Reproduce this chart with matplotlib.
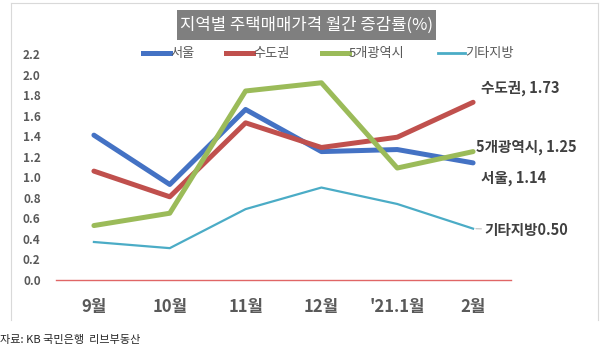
import matplotlib
matplotlib.use("Agg")
import matplotlib.pyplot as plt
from matplotlib.lines import Line2D
from matplotlib.patches import Rectangle

plt.rcParams['font.family'] = ['Noto Sans CJK KR', 'DejaVu Sans']

months = ['9월', '10월', '11월', '12월', "'21.1월", '2월']
seoul = [1.41, 0.93, 1.66, 1.25, 1.27, 1.14]
sudo = [1.06, 0.81, 1.53, 1.29, 1.39, 1.73]
metro5 = [0.53, 0.65, 1.84, 1.92, 1.09, 1.25]
others = [0.37, 0.31, 0.69, 0.90, 0.74, 0.50]
yticks = [0.0, 0.2, 0.4, 0.6, 0.8, 1.0, 1.2, 1.4, 1.6, 1.8, 2.0, 2.2]

c_seoul = '#4472C4'
c_sudo = '#C0504D'
c_metro = '#9BBB59'
c_other = '#4BACC6'
grey = '#595959'

fig = plt.figure(figsize=(6, 3.56), dpi=100)
W, H = 600, 356

def fx(px):
    return px / W

def fy(py):
    return 1 - py / H

# outer frame (top, left, right)
fig.add_artist(Line2D([fx(11), fx(598)], [fy(3), fy(3)], color='#d9d9d9', lw=0.8))
fig.add_artist(Line2D([fx(11), fx(11)], [fy(3), fy(320)], color='#d9d9d9', lw=0.8))
fig.add_artist(Line2D([fx(598), fx(598)], [fy(3), fy(320)], color='#d9d9d9', lw=0.8))

ax = fig.add_axes([fx(56), fy(280), fx(511) - fx(56), (280 - 54) / H])
x = list(range(len(months)))
ax.plot(x, seoul, color=c_seoul, lw=3.6, solid_capstyle='round', clip_on=False)
ax.plot(x, sudo, color=c_sudo, lw=3.6, solid_capstyle='round', clip_on=False)
ax.plot(x, metro5, color=c_metro, lw=3.6, solid_capstyle='round', clip_on=False)
ax.plot(x, others, color=c_other, lw=1.6, clip_on=False)
ax.axhline(0, color='#e06666', lw=1.0, clip_on=False)

ax.set_xlim(-0.5, 5.5)
ax.set_ylim(0, 2.2)
ax.set_yticks(yticks)
ax.set_yticklabels([f'{v:.1f}' for v in yticks], fontsize=8.5, fontweight='bold', color=grey)
ax.set_xticks(x)
ax.set_xticklabels(months, fontsize=12, fontweight='bold', color=grey)
ax.tick_params(axis='y', length=0, pad=11)
ax.tick_params(axis='x', length=0, pad=13)
for s in ax.spines.values():
    s.set_visible(False)
ax.patch.set_visible(False)

# end labels
lab_kw = dict(fontsize=10.5, fontweight='bold', color='#404040', va='center')
ax.annotate(f'수도권, {sudo[-1]:.2f}', (5, sudo[-1]), xytext=(6, 10), textcoords='offset points', **lab_kw)
ax.annotate(f'5개광역시, {metro5[-1]:.2f}', (5, metro5[-1]), xytext=(2, 3), textcoords='offset points', **lab_kw)
ax.annotate(f'서울, {seoul[-1]:.2f}', (5, seoul[-1]), xytext=(6, -11), textcoords='offset points', **lab_kw)
ax.annotate(f'기타지방{others[-1]:.2f}', (5, others[-1]), xytext=(8, -1), textcoords='offset points',
            arrowprops=dict(arrowstyle='-', color='#bfbfbf', lw=0.8, shrinkA=0, shrinkB=2), **lab_kw)

# title box
fig.add_artist(Rectangle((fx(177), fy(40)), fx(436) - fx(177), (40 - 10) / H,
                         facecolor='#7f7f7f', edgecolor='none'))
fig.text(fx(306.5), fy(25), '지역별 주택매매가격 월간 증감률(%)', color='white',
         fontsize=12, ha='center', va='center')

# legend
leg = [(143, '서울', c_seoul, 3.6), (226, '수도권', c_sudo, 3.6),
       (322, '5개광역시', c_metro, 3.6), (438, '기타지방', c_other, 2.0)]
for px, name, col, lw in leg:
    fig.add_artist(Line2D([fx(px), fx(px + 27)], [fy(53), fy(53)], color=col, lw=lw))
    fig.text(fx(px + 27), fy(53), name, fontsize=9.5, color=grey, va='center', ha='left')

fig.text(fx(0), fy(340), '자료: KB 국민은행  리브부동산', fontsize=8, color='#262626', va='center')

fig.savefig('out.png', dpi=100)
